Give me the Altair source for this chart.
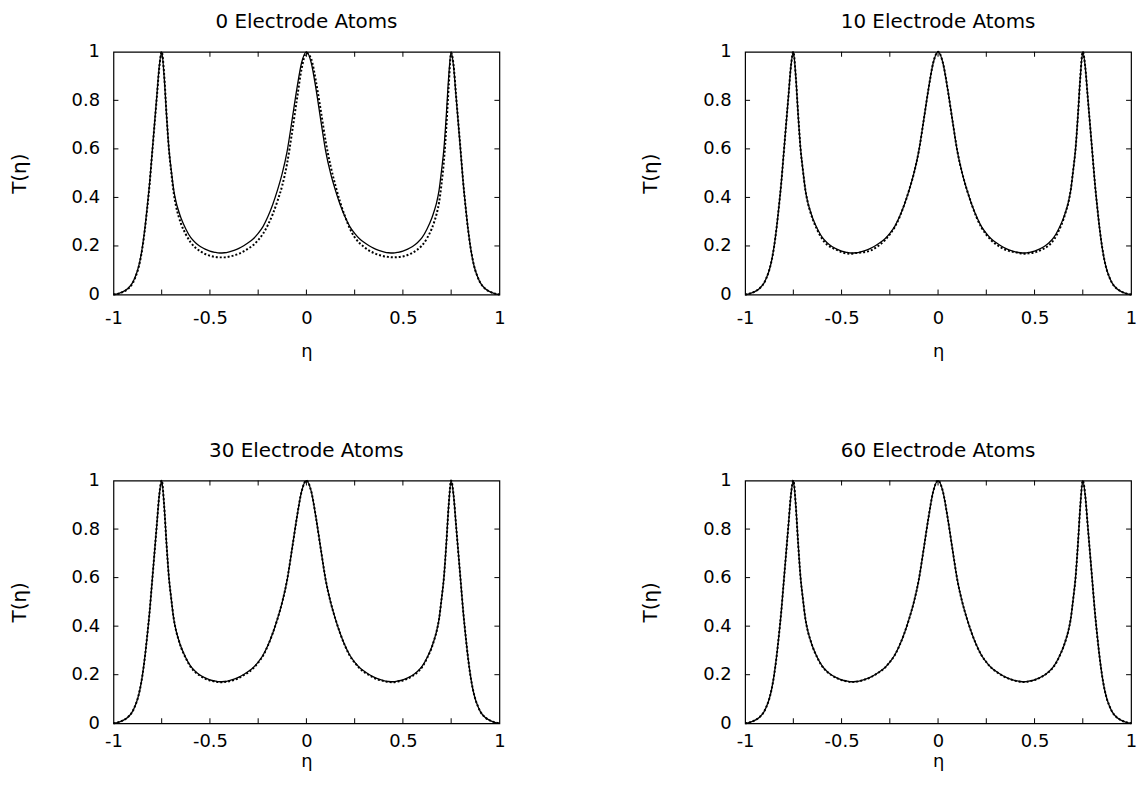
import altair as alt
import pandas as pd

ETA = [-1.0, -0.975, -0.95, -0.925, -0.9, -0.8875, -0.875, -0.8625, -0.85, -0.8375,
       -0.825, -0.8125, -0.8, -0.7875, -0.775, -0.7625, -0.75, -0.7375, -0.725, -0.7125,
       -0.7, -0.6875, -0.675, -0.6625, -0.65, -0.625, -0.6, -0.575, -0.55, -0.525,
       -0.5, -0.475, -0.45, -0.425, -0.4, -0.375, -0.35, -0.325, -0.3, -0.275,
       -0.25, -0.225, -0.2, -0.175, -0.15, -0.125, -0.1, -0.075, -0.05, -0.025,
       0.0,
       0.025, 0.05, 0.075, 0.1, 0.125, 0.15, 0.175, 0.2, 0.225, 0.25,
       0.275, 0.3, 0.325, 0.35, 0.375, 0.4, 0.425, 0.45, 0.475, 0.5,
       0.525, 0.55, 0.575, 0.6, 0.625, 0.65, 0.6625, 0.675, 0.6875, 0.7,
       0.7125, 0.725, 0.7375, 0.75, 0.7625, 0.775, 0.7875, 0.8, 0.8125, 0.825,
       0.8375, 0.85, 0.8625, 0.875, 0.8875, 0.9, 0.925, 0.95, 0.975, 1.0]

T_EXACT = [0.000, 0.004, 0.012, 0.025, 0.050, 0.072, 0.100, 0.140, 0.196, 0.270,
           0.360, 0.460, 0.580, 0.700, 0.820, 0.940, 1.000, 0.900, 0.740, 0.600,
           0.510, 0.430, 0.380, 0.345, 0.315, 0.270, 0.235, 0.213, 0.198, 0.187,
           0.179, 0.174, 0.171, 0.172, 0.176, 0.182, 0.190, 0.201, 0.214, 0.230,
           0.252, 0.280, 0.320, 0.370, 0.430, 0.500, 0.590, 0.715, 0.845, 0.955,
           1.000,
           0.955, 0.845, 0.715, 0.590, 0.500, 0.430, 0.370, 0.320, 0.280, 0.252,
           0.230, 0.214, 0.201, 0.190, 0.182, 0.176, 0.172, 0.171, 0.174, 0.179,
           0.187, 0.198, 0.213, 0.235, 0.270, 0.315, 0.345, 0.380, 0.430, 0.510,
           0.600, 0.740, 0.900, 1.000, 0.940, 0.820, 0.700, 0.580, 0.460, 0.360,
           0.270, 0.196, 0.140, 0.100, 0.072, 0.050, 0.025, 0.012, 0.004, 0.000]

T_0 = [0.000, 0.003, 0.011, 0.023, 0.047, 0.069, 0.097, 0.136, 0.191, 0.265,
       0.355, 0.455, 0.575, 0.695, 0.815, 0.935, 1.000, 0.910, 0.745, 0.598,
       0.500, 0.418, 0.362, 0.323, 0.292, 0.248, 0.215, 0.193, 0.178, 0.167,
       0.160, 0.155, 0.153, 0.153, 0.156, 0.161, 0.168, 0.178, 0.190, 0.204,
       0.224, 0.250, 0.286, 0.330, 0.385, 0.450, 0.540, 0.665, 0.800, 0.930,
       0.995,
       0.970, 0.875, 0.755, 0.630, 0.530, 0.450, 0.380, 0.322, 0.272, 0.236,
       0.212, 0.195, 0.181, 0.171, 0.163, 0.158, 0.155, 0.153, 0.154, 0.157,
       0.163, 0.172, 0.185, 0.203, 0.232, 0.272, 0.300, 0.333, 0.380, 0.455,
       0.550, 0.690, 0.860, 0.995, 0.945, 0.825, 0.705, 0.585, 0.462, 0.360,
       0.270, 0.196, 0.140, 0.100, 0.072, 0.050, 0.025, 0.012, 0.004, 0.000]

T_10 = [0.000, 0.004, 0.012, 0.025, 0.050, 0.072, 0.100, 0.140, 0.196, 0.270,
        0.360, 0.460, 0.580, 0.700, 0.820, 0.940, 1.000, 0.900, 0.740, 0.600,
        0.510, 0.430, 0.378, 0.342, 0.311, 0.265, 0.228, 0.205, 0.193, 0.184,
        0.175, 0.169, 0.168, 0.171, 0.173, 0.176, 0.181, 0.192, 0.206, 0.224,
        0.248, 0.277, 0.318, 0.370, 0.430, 0.500, 0.590, 0.715, 0.845, 0.955,
        1.000,
        0.955, 0.845, 0.715, 0.590, 0.500, 0.430, 0.370, 0.317, 0.276, 0.247,
        0.224, 0.207, 0.194, 0.184, 0.178, 0.174, 0.170, 0.168, 0.170, 0.173,
        0.180, 0.190, 0.203, 0.226, 0.262, 0.310, 0.342, 0.378, 0.430, 0.510,
        0.600, 0.740, 0.900, 1.000, 0.940, 0.820, 0.700, 0.580, 0.460, 0.360,
        0.270, 0.196, 0.140, 0.100, 0.072, 0.050, 0.025, 0.012, 0.004, 0.000]

T_30 = [0.000, 0.004, 0.012, 0.025, 0.050, 0.072, 0.100, 0.140, 0.196, 0.270,
        0.360, 0.460, 0.580, 0.700, 0.820, 0.940, 1.000, 0.900, 0.740, 0.600,
        0.510, 0.430, 0.380, 0.344, 0.313, 0.268, 0.232, 0.210, 0.195, 0.184,
        0.176, 0.172, 0.169, 0.170, 0.173, 0.178, 0.186, 0.198, 0.210, 0.227,
        0.250, 0.278, 0.319, 0.370, 0.430, 0.500, 0.590, 0.715, 0.845, 0.955,
        1.000,
        0.955, 0.845, 0.715, 0.590, 0.500, 0.430, 0.370, 0.319, 0.278, 0.250,
        0.227, 0.210, 0.198, 0.187, 0.179, 0.174, 0.170, 0.169, 0.172, 0.176,
        0.184, 0.195, 0.210, 0.232, 0.268, 0.313, 0.344, 0.380, 0.430, 0.510,
        0.600, 0.740, 0.900, 1.000, 0.940, 0.820, 0.700, 0.580, 0.460, 0.360,
        0.270, 0.196, 0.140, 0.100, 0.072, 0.050, 0.025, 0.012, 0.004, 0.000]

T_60 = [0.000, 0.004, 0.012, 0.025, 0.050, 0.072, 0.100, 0.140, 0.196, 0.270,
        0.360, 0.460, 0.580, 0.700, 0.820, 0.940, 1.000, 0.900, 0.740, 0.600,
        0.510, 0.430, 0.380, 0.345, 0.315, 0.269, 0.234, 0.212, 0.197, 0.186,
        0.178, 0.173, 0.170, 0.171, 0.175, 0.181, 0.189, 0.200, 0.213, 0.229,
        0.252, 0.280, 0.320, 0.370, 0.430, 0.500, 0.590, 0.715, 0.845, 0.955,
        1.000,
        0.955, 0.845, 0.715, 0.590, 0.500, 0.430, 0.370, 0.320, 0.280, 0.252,
        0.229, 0.213, 0.200, 0.189, 0.181, 0.175, 0.171, 0.170, 0.173, 0.178,
        0.186, 0.197, 0.212, 0.234, 0.269, 0.315, 0.345, 0.380, 0.430, 0.510,
        0.600, 0.740, 0.900, 1.000, 0.940, 0.820, 0.700, 0.580, 0.460, 0.360,
        0.270, 0.196, 0.140, 0.100, 0.072, 0.050, 0.025, 0.012, 0.004, 0.000]

TITLES = ["0 Electrode Atoms", "10 Electrode Atoms", "30 Electrode Atoms", "60 Electrode Atoms"]
X_LABELS = [-1, -0.5, 0, 0.5, 1]
X_TICKS = [-0.75, -0.5, -0.25, 0, 0.25, 0.5, 0.75]
Y_LABELS = [0, 0.2, 0.4, 0.6, 0.8, 1]
Y_TICKS = [0.2, 0.4, 0.6, 0.8]

W, H = 388, 244
TL = 5
FONT = "DejaVu Sans"


def panel(title, approx, xlabel_pad, xtitle_pad):
    df = pd.DataFrame({"eta": ETA, "exact": T_EXACT, "approx": approx})
    xs = alt.Scale(domain=[-1, 1], nice=False, zero=False)
    ys = alt.Scale(domain=[0, 1], nice=False, zero=False)
    xax = alt.Axis(values=X_LABELS, title="η", labelExpr="toString(datum.value)",
                   ticks=False, tickSize=0, domain=False, grid=False, labelFlush=False,
                   labelOverlap=False, labelFont=FONT, labelFontSize=18, labelColor="black",
                   labelPadding=xlabel_pad, titleFont=FONT, titleFontSize=18,
                   titleFontWeight="normal", titleColor="black", titlePadding=xtitle_pad)
    yax = alt.Axis(values=Y_LABELS, title="T(η)", labelExpr="toString(datum.value)",
                   ticks=False, tickSize=0, domain=False, grid=False, labelFlush=False,
                   labelOverlap=False, labelFont=FONT, labelFontSize=18, labelColor="black",
                   labelPadding=14, titleFont=FONT, titleFontSize=20, titleFontWeight="normal",
                   titleColor="black", titlePadding=42)
    X = alt.X("eta:Q", scale=xs, axis=xax)
    exact = alt.Chart(df).mark_line(color="black", strokeWidth=1.3, interpolate="monotone").encode(
        x=X, y=alt.Y("exact:Q", scale=ys, axis=yax))
    appr = alt.Chart(df).mark_line(color="black", strokeWidth=2, strokeDash=[2, 2],
                                    interpolate="monotone").encode(
        x=X, y=alt.Y("approx:Q", scale=ys, axis=yax))
    xt = pd.DataFrame({"v": X_TICKS})
    yt = pd.DataFrame({"v": Y_TICKS})
    bot = alt.Chart(xt).mark_rule(color="black", strokeWidth=1).encode(
        x=alt.X("v:Q", scale=xs, axis=xax), y=alt.value(H), y2=alt.value(H - TL))
    top = alt.Chart(xt).mark_rule(color="black", strokeWidth=1).encode(
        x=alt.X("v:Q", scale=xs, axis=xax), y=alt.value(0), y2=alt.value(TL))
    lft = alt.Chart(yt).mark_rule(color="black", strokeWidth=1).encode(
        y=alt.Y("v:Q", scale=ys, axis=yax), x=alt.value(0), x2=alt.value(TL))
    rgt = alt.Chart(yt).mark_rule(color="black", strokeWidth=1).encode(
        y=alt.Y("v:Q", scale=ys, axis=yax), x=alt.value(W - TL), x2=alt.value(W))
    return alt.layer(exact, appr, bot, top, lft, rgt).properties(
        width=W, height=H,
        title=alt.TitleParams(text=title, font=FONT, fontSize=20, fontWeight="normal",
                              color="black", anchor="middle", frame="group", offset=11))


chart = alt.concat(
    panel(TITLES[0], T_0, 15, 15), panel(TITLES[1], T_10, 15, 15),
    panel(TITLES[2], T_30, 9, 2), panel(TITLES[3], T_60, 9, 2),
    columns=2, spacing={"row": 187, "column": 247}, bounds="flush",
).properties(
    padding={"left": 0, "top": 1, "right": 0, "bottom": 0}, background="white"
).configure_view(stroke="black", strokeWidth=1.2)

chart.save("out.html", embed_options={"renderer": "svg", "actions": False})
